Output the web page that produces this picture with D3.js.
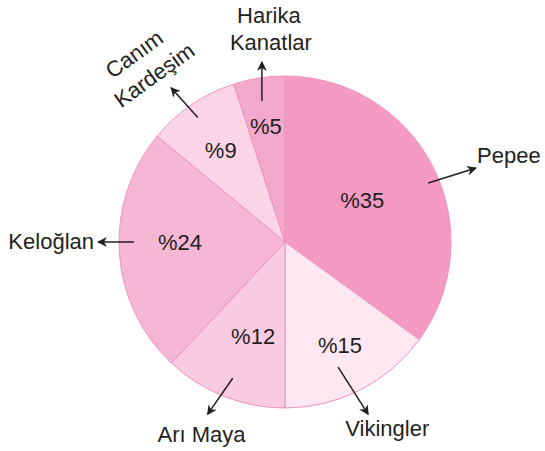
<!DOCTYPE html>
<html>
<head>
<meta charset="utf-8">
<script src="https://cdn.jsdelivr.net/npm/d3@7"></script>
<style>
  body { margin: 0; background: #fff; }
  text { font-family: "Liberation Sans", Arial, sans-serif; fill: #231f20; }
</style>
</head>
<body>
<div id="chart"></div>
<script>
// data
let labels = ['Pepee', 'Vikingler', 'Arı Maya', 'Keloğlan', 'Canım Kardeşim', 'Harika Kanatlar'];
let values = [35, 15, 12, 24, 9, 5];
let colors = ['#f49ac3', '#fde7f1', '#f9cbe0', '#f6b7d4', '#fbd5e5', '#f3a9cb'];

// label layout (arrow start angle/radius, arrow direction/length, text lines + offsets from arrow tip)
let layout = [
  { pr: 88,  pa: -1.6, sa: 67.6, sr: 155, dir: 72.6,  len: 50, lines: [['Pepee', 1, -5, 'start']] },
  { pr: 117, pa: -1,   sa: 157,  sr: 136, dir: 147.5, len: 56, lines: [['Vikingler', 19, 22, 'middle']] },
  { pr: 99,  pa: -2.8, sa: 201,  sr: 146, dir: 214.8, len: 44, lines: [['Arı Maya', -6, 28, 'middle']] },
  { pr: 105, pa: 3.5,  sa: 270,  sr: 151, dir: 270,   len: 36, lines: [['Keloğlan', -4, 7, 'end']] },
  { pr: 112, pa: -0.8, sa: 325,  sr: 152, dir: 318,   len: 40, rot: -36,
    lines: [['Canım', -37, -34, 'middle'], ['Kardeşim', -17, -13, 'middle']] },
  { pr: 117, pa: -0.4, sa: 350.7, sr: 143, dir: 0,    len: 39, lines: [['Harika', 7, -39, 'middle'], ['Kanatlar', 9, -12, 'middle']] }
];

let width = 545;
let height = 451;
let radius = 166;
let cx = 285, cy = 242;
let rad = Math.PI / 180;
let fontSize = '22px';

let polar = (deg, r) => [r * Math.sin(deg * rad), -r * Math.cos(deg * rad)];

let dataset = labels.map((l, i) => ({ label: l, count: values[i] }));

let svg = d3.select('#chart')
  .append('svg')
  .attr('width', width)
  .attr('height', height);

svg.append('defs').append('marker')
  .attr('id', 'arrow')
  .attr('viewBox', '0 0 10 10')
  .attr('refX', 9)
  .attr('refY', 5)
  .attr('markerWidth', 10)
  .attr('markerHeight', 10)
  .attr('markerUnits', 'userSpaceOnUse')
  .attr('orient', 'auto')
  .append('path')
  .attr('d', 'M0,0 L10,5 L0,10 L3,5 Z')
  .attr('fill', '#231f20');

let g = svg.append('g')
  .attr('transform', 'translate(' + cx + ',' + cy + ')');

let arc = d3.arc()
  .innerRadius(0)
  .outerRadius(radius);

let pie = d3.pie()
  .value(d => d.count)
  .sort(null);

let arcs = pie(dataset);

g.selectAll('path.slice')
  .data(arcs)
  .enter()
  .append('path')
  .attr('class', 'slice')
  .attr('d', arc)
  .attr('fill', (d, i) => colors[i])
  .attr('stroke', '#ef92be')
  .attr('stroke-width', 1);

// percent labels
g.selectAll('text.pct')
  .data(arcs)
  .enter()
  .append('text')
  .attr('class', 'pct')
  .attr('transform', (d, i) => {
    let mid = (d.startAngle + d.endAngle) / 2 / rad + layout[i].pa;
    let p = polar(mid, layout[i].pr);
    return 'translate(' + p[0] + ',' + p[1] + ')';
  })
  .attr('text-anchor', 'middle')
  .attr('dy', '0.36em')
  .style('font-size', fontSize)
  .text(d => '%' + d.data.count);

// arrows + names
arcs.forEach((d, i) => {
  let L = layout[i];
  let s = polar(L.sa, L.sr);
  let dv = polar(L.dir, L.len);
  let e = [s[0] + dv[0], s[1] + dv[1]];

  g.append('line')
    .attr('x1', s[0]).attr('y1', s[1])
    .attr('x2', e[0]).attr('y2', e[1])
    .attr('stroke', '#231f20')
    .attr('stroke-width', 1.5)
    .attr('marker-end', 'url(#arrow)');

  L.lines.forEach(ln => {
    let t = g.append('text')
      .attr('text-anchor', ln[3])
      .style('font-size', fontSize)
      .text(ln[0]);
    let x = e[0] + ln[1], y = e[1] + ln[2];
    if (L.rot) {
      t.attr('dy', '0.36em')
        .attr('transform', 'translate(' + x + ',' + y + ') rotate(' + L.rot + ')');
    } else {
      t.attr('x', x).attr('y', y);
    }
  });
});
</script>
</body>
</html>
